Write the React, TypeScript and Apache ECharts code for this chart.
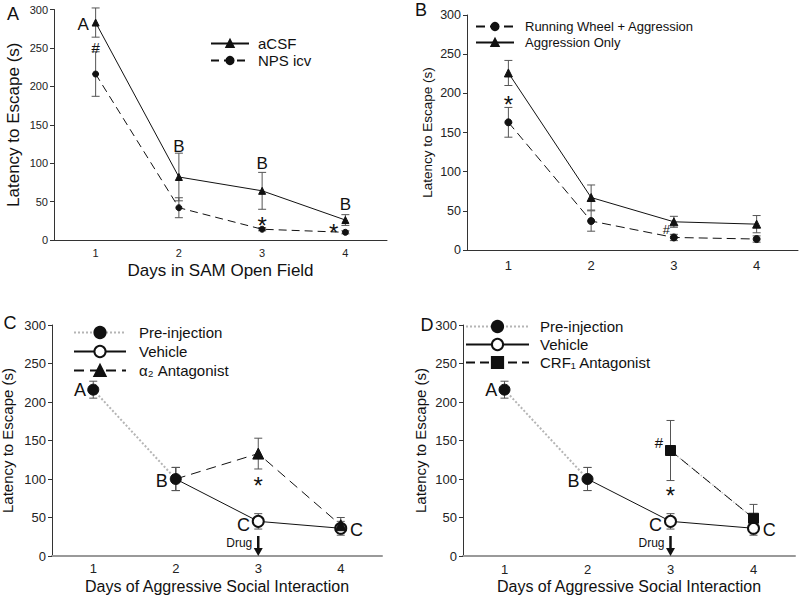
import React, { useEffect, useRef } from 'react';
import * as echarts from 'echarts';

// ---------- data ----------
const days = [1, 2, 3, 4];

// Panel A
const aCsfMean = [283, 82, 64, 26];
const aCsfSem = [19, 31, 24, 7];
const npsMean = [216, 42, 14, 10];
const npsSem = [29, 13, 2, 2];

// Panel B
const wheelMean = [163, 37, 16, 14];
const wheelSem = [19, 13, 4, 4];
const aggOnlyMean = [226, 67, 36, 33];
const aggOnlySem = [16, 16, 7, 11];

// Panels C and D (shared)
const preDays = [1, 2];
const preMean = [216, 100];
const preSem = [11, 15];
const vehDays = [2, 3, 4];
const vehMean = [100, 45, 36];
const vehSem = [15, 10, 9];

// Panel C
const alphaDays = [2, 3, 4];
const alphaMean = [100, 133, 40];
const alphaSem = [15, 20, 10];

// Panel D
const crfDays = [3, 4];
const crfMean = [137, 49];
const crfSem = [39, 18];

const drugDay = 3;

const yTicks = { min: 0, max: 300, interval: 50 };

// annotations: [text, day, value]
const annotA: [string, number, number][] = [
  ['A', 0.85, 280], ['#', 1, 250], ['B', 2, 122], ['B', 3, 100], ['B', 4, 46], ['*', 3, 27], ['*', 3.86, 17],
];
const annotB: [string, number, number][] = [['*', 1, 194], ['#', 2.91, 26]];
const annotC: [string, number, number][] = [
  ['A', 0.84, 216], ['B', 1.83, 97], ['C', 2.82, 40], ['C', 4.19, 34], ['*', 3, 99],
];
const annotD: [string, number, number][] = [
  ['A', 0.84, 216], ['B', 1.83, 97], ['#', 2.86, 148], ['*', 3, 86], ['C', 2.82, 40], ['C', 4.19, 34],
];

// ---------- helpers ----------
const FONT = "'Liberation Sans', Arial, sans-serif";
const letterSize = [17, 16, 18, 18];

function fontSizeFor(t: string, panel: number) {
  if (t === '*') return 24;
  if (t === '#') return panel === 1 ? 13 : 15;
  return letterSize[panel];
}

function pts(xs: number[], ys: number[]) {
  return xs.map((x, i) => [x, ys[i]]);
}

function errorSeries(g: number, xs: number[], mean: number[], sem: number[], cap: number) {
  return {
    type: 'custom',
    xAxisIndex: g,
    yAxisIndex: g,
    silent: true,
    z: 1,
    encode: { x: 0, y: [1, 2] },
    data: xs.map((x, i) => [x, mean[i] - sem[i], mean[i] + sem[i]]),
    renderItem: (params: any, api: any) => {
      const x = api.value(0);
      const p1 = api.coord([x, api.value(1)]);
      const p2 = api.coord([x, api.value(2)]);
      const style = { stroke: '#555', lineWidth: 1 };
      return {
        type: 'group',
        children: [
          { type: 'line', shape: { x1: p1[0], y1: p1[1], x2: p2[0], y2: p2[1] }, style },
          { type: 'line', shape: { x1: p1[0] - cap, y1: p1[1], x2: p1[0] + cap, y2: p1[1] }, style },
          { type: 'line', shape: { x1: p2[0] - cap, y1: p2[1], x2: p2[0] + cap, y2: p2[1] }, style },
        ],
      };
    },
  };
}

function annotSeries(g: number, items: [string, number, number][]) {
  return {
    type: 'custom',
    xAxisIndex: g,
    yAxisIndex: g,
    silent: true,
    z: 6,
    data: items.map((it) => [it[1], it[2]]),
    renderItem: (params: any, api: any) => {
      const t = items[params.dataIndex][0];
      const p = api.coord([api.value(0), api.value(1)]);
      const fs = fontSizeFor(t, g);
      const dy = t === '*' ? fs * 0.25 : 0;
      return {
        type: 'text',
        x: p[0],
        y: p[1] + dy,
        style: {
          text: t,
          fontSize: fs,
          fontFamily: FONT,
          fill: '#111',
          align: 'center',
          verticalAlign: 'middle',
        },
      };
    },
  };
}

function drugSeries(g: number) {
  return {
    type: 'custom',
    xAxisIndex: g,
    yAxisIndex: g,
    silent: true,
    z: 6,
    data: [[drugDay, 0]],
    renderItem: (params: any, api: any) => {
      const p = api.coord([api.value(0), api.value(1)]);
      return {
        type: 'group',
        children: [
          {
            type: 'text',
            x: p[0] - 6,
            y: p[1] - 13,
            style: { text: 'Drug', fontSize: 12, fontFamily: FONT, fill: '#111', align: 'right', verticalAlign: 'middle' },
          },
          { type: 'line', shape: { x1: p[0], y1: p[1] - 20, x2: p[0], y2: p[1] - 7 }, style: { stroke: '#111', lineWidth: 2.5 } },
          {
            type: 'polygon',
            shape: { points: [[p[0] - 4.5, p[1] - 8], [p[0] + 4.5, p[1] - 8], [p[0], p[1]]] },
            style: { fill: '#111' },
          },
        ],
      };
    },
  };
}

function lineSeries(
  g: number,
  name: string,
  data: any[],
  symbol: string,
  size: number,
  lineType: any,
  lineColor = '#111',
  lineWidth = 1,
) {
  return {
    type: 'line',
    name,
    xAxisIndex: g,
    yAxisIndex: g,
    data,
    symbol,
    symbolSize: size,
    z: 3,
    lineStyle: { color: lineColor, width: lineWidth, type: lineType },
    itemStyle: { color: '#111', borderColor: '#111', borderWidth: 1 },
  };
}

function xAxis(g: number, fs: number, margin: number, name: string, axisColor: string, axisWidth: number) {
  return {
    type: 'value',
    gridIndex: g,
    min: 0.5,
    max: 4.5,
    splitLine: { show: false },
    axisTick: { show: false },
    axisLine: { lineStyle: { color: axisColor, width: axisWidth } },
    axisLabel: {
      fontSize: fs,
      fontFamily: FONT,
      color: '#222',
      margin,
      showMinLabel: false,
      showMaxLabel: false,
      formatter: (v: number) => (Number.isInteger(v) ? String(v) : ''),
    },
    name,
    nameLocation: 'middle',
    nameGap: 22,
    nameTextStyle: { fontSize: g === 0 ? 17 : 16, fontFamily: FONT, color: '#111' },
  };
}

function yAxis(g: number, fs: number, nameFs: number, nameGap: number) {
  return {
    type: 'value',
    gridIndex: g,
    ...yTicks,
    splitLine: { show: false },
    axisTick: { show: true, length: 4, lineStyle: { color: '#333' } },
    axisLine: { show: true, lineStyle: { color: '#333' } },
    axisLabel: { fontSize: fs, fontFamily: FONT, color: '#222', margin: 6 },
    name: 'Latency to Escape (s)',
    nameLocation: 'middle',
    nameGap,
    nameTextStyle: { fontSize: nameFs, fontFamily: FONT, color: '#111' },
  };
}

function legend(left: number, top: number, w: number, h: number, gap: number, fs: number, pad: number, data: string[]) {
  return {
    orient: 'vertical',
    left,
    top,
    padding: 0,
    itemWidth: w,
    itemHeight: h,
    itemGap: gap,
    selectedMode: false,
    data,
    textStyle: { fontSize: fs, fontFamily: FONT, color: '#111', padding: [0, 0, 0, pad] },
  };
}

function panelLetter(t: string, x: number, y: number) {
  return {
    type: 'text',
    x,
    y,
    style: { text: t, fontSize: 18, fontFamily: FONT, fill: '#111', align: 'center', verticalAlign: 'middle' },
  };
}

const ALPHA = 'α₂ Antagonist';
const CRF = 'CRF₁ Antagonist';

export default function App() {
  const ref = useRef<HTMLDivElement>(null);
  useEffect(() => {
    if (!ref.current) return;
    const chart = echarts.init(ref.current, null, { renderer: 'svg' });
    const option: any = {
      animation: false,
      backgroundColor: '#fff',
      textStyle: { fontFamily: FONT },
      grid: [
        { left: 54, top: 9.5, width: 333, height: 230.5, outerBoundsMode: 'none' },
        { left: 467, top: 15, width: 331, height: 235, outerBoundsMode: 'none' },
        { left: 52, top: 325, width: 330, height: 231, outerBoundsMode: 'none' },
        { left: 463, top: 325, width: 332, height: 231, outerBoundsMode: 'none' },
      ],
      xAxis: [
        xAxis(0, 11, 7, 'Days in SAM Open Field', '#333', 1),
        xAxis(1, 13, 9, '', '#333', 1),
        xAxis(2, 13, 6, 'Days of Aggressive Social Interaction', '#999', 2),
        xAxis(3, 13, 7, 'Days of Aggressive Social Interaction', '#999', 2),
      ],
      yAxis: [yAxis(0, 11, 17, 32), yAxis(1, 12.5, 13.5, 33), yAxis(2, 13, 15, 37), yAxis(3, 13, 15, 35)],
      legend: [
        legend(210, 36, 38, 9, 2, 15, 4, ['aCSF', 'NPS icv']),
        legend(475, 20, 38, 9, 3, 13, 6, ['Running Wheel + Aggression', 'Aggression Only']),
        legend(73, 325, 52, 14, 4, 15, 8, ['Pre-injection', 'Vehicle', ALPHA]),
        legend(465, 319, 63, 14, 3, 15, 6, ['Pre-injection', 'Vehicle', CRF]),
      ],
      graphic: [panelLetter('A', 13, 14), panelLetter('B', 421, 10), panelLetter('C', 10, 323), panelLetter('D', 427, 325)],
      series: [
        // Panel A
        errorSeries(0, days, aCsfMean, aCsfSem, 4),
        errorSeries(0, days, npsMean, npsSem, 4),
        lineSeries(0, 'aCSF', pts(days, aCsfMean), 'triangle', 7, 'solid'),
        lineSeries(0, 'NPS icv', pts(days, npsMean), 'circle', 6, [8, 5]),
        annotSeries(0, annotA),
        // Panel B
        errorSeries(1, days, wheelMean, wheelSem, 4),
        errorSeries(1, days, aggOnlyMean, aggOnlySem, 4),
        lineSeries(1, 'Running Wheel + Aggression', pts(days, wheelMean), 'circle', 7, [9, 5]),
        lineSeries(1, 'Aggression Only', pts(days, aggOnlyMean), 'triangle', 8, 'solid'),
        annotSeries(1, annotB),
        // Panel C
        errorSeries(2, preDays, preMean, preSem, 4),
        errorSeries(2, vehDays, vehMean, vehSem, 4),
        errorSeries(2, alphaDays, alphaMean, alphaSem, 4),
        lineSeries(
          2,
          'Vehicle',
          pts(vehDays, vehMean).map((v, i) => (i === 0 ? { value: v, symbol: 'none' } : v)),
          'emptyCircle',
          11,
          'solid',
        ),
        lineSeries(
          2,
          ALPHA,
          pts(alphaDays, alphaMean).map((v, i) => (i === 0 ? { value: v, symbol: 'none' } : v)),
          'triangle',
          11,
          [10, 6],
        ),
        { ...lineSeries(2, 'Pre-injection', pts(preDays, preMean), 'circle', 11, 'dotted', '#b5b5b5', 2), z: 4 },
        annotSeries(2, annotC),
        drugSeries(2),
        // Panel D
        errorSeries(3, preDays, preMean, preSem, 4),
        errorSeries(3, vehDays, vehMean, vehSem, 4),
        errorSeries(3, crfDays, crfMean, crfSem, 4),
        lineSeries(
          3,
          'Vehicle',
          pts(vehDays, vehMean).map((v, i) => (i === 0 ? { value: v, symbol: 'none' } : v)),
          'emptyCircle',
          11,
          'solid',
        ),
        {
          ...lineSeries(3, '', pts(crfDays, crfMean), 'none', 0, 'dotted', '#c4c4c4', 1.5),
          silent: true,
          z: 2,
        },
        lineSeries(3, CRF, pts(crfDays, crfMean), 'rect', 10, [9, 5]),
        { ...lineSeries(3, 'Pre-injection', pts(preDays, preMean), 'circle', 11, 'dotted', '#b5b5b5', 2), z: 4 },
        annotSeries(3, annotD),
        drugSeries(3),
      ],
    };
    chart.setOption(option);
    return () => chart.dispose();
  }, []);
  return <div ref={ref} style={{ position: 'fixed', left: 0, top: 0, width: 800, height: 597 }} />;
}
